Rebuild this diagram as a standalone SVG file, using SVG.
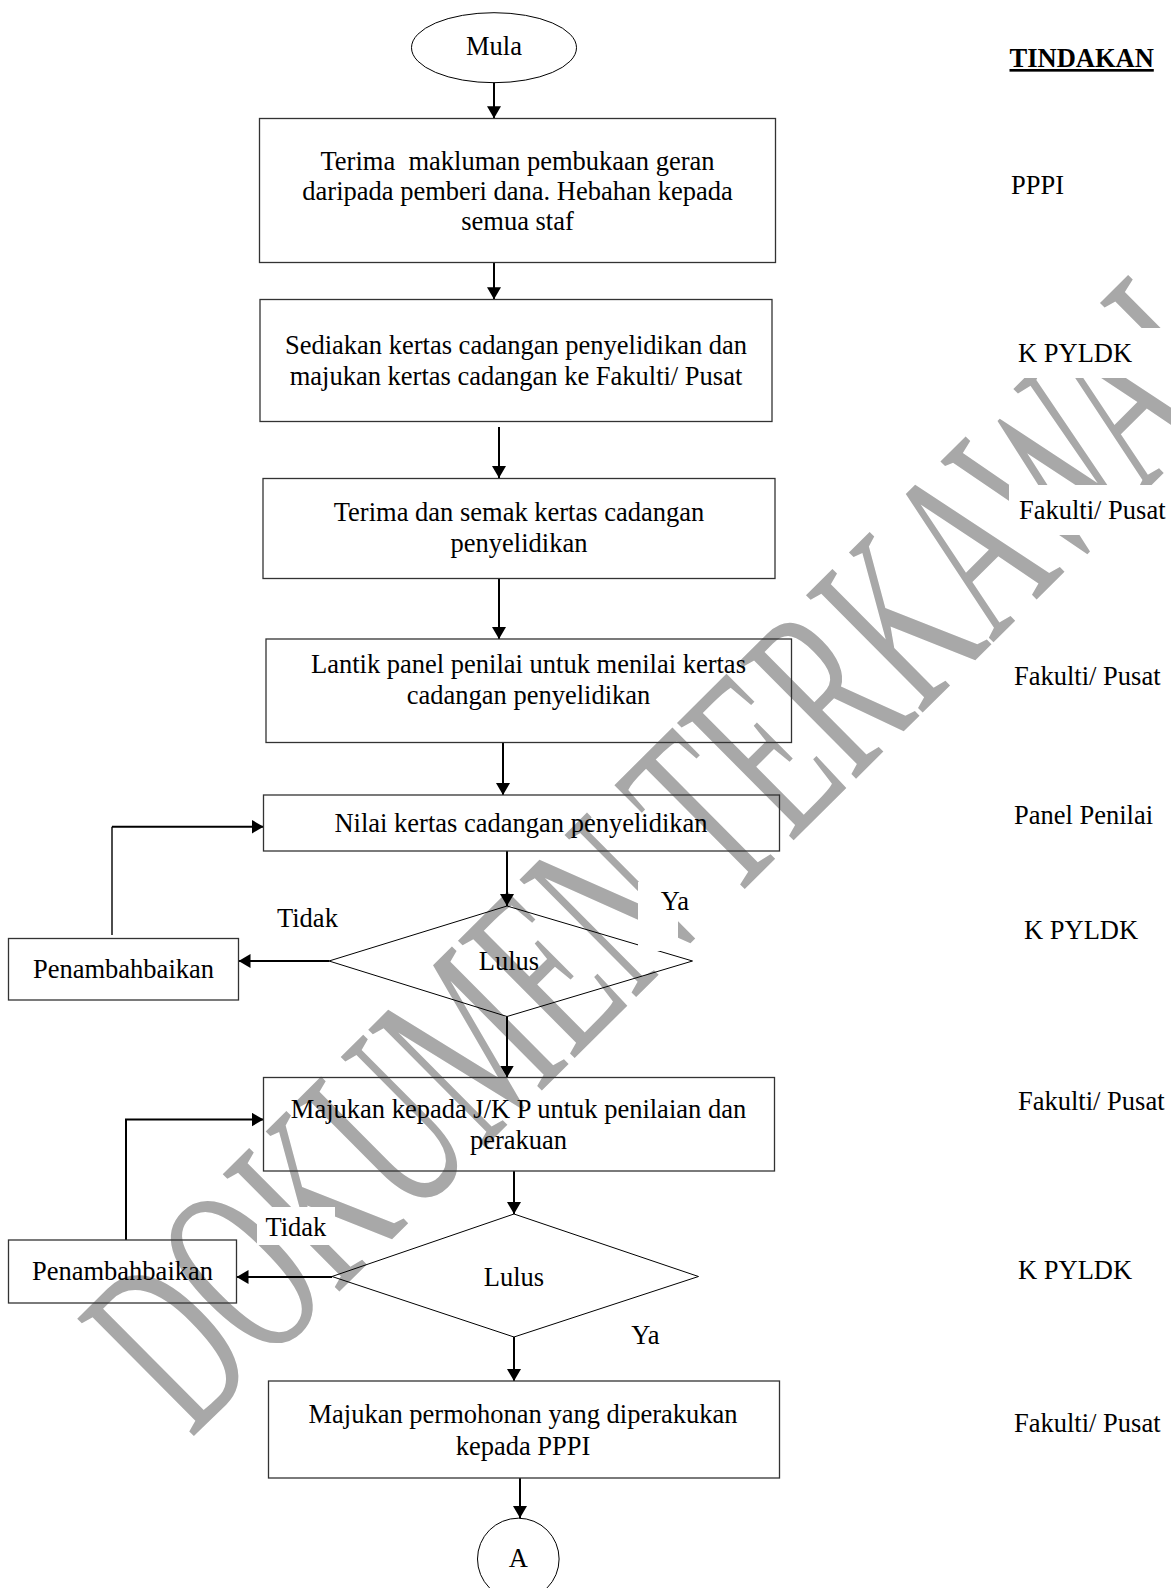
<svg xmlns="http://www.w3.org/2000/svg" width="1171" height="1588" viewBox="0 0 1171 1588">
<defs>
<marker id="ah" markerUnits="userSpaceOnUse" viewBox="0 0 12 14" refX="12" refY="7" markerWidth="12" markerHeight="14" orient="auto">
<path d="M0,0 L12,7 L0,14 z" fill="#000"/>
</marker>
</defs>
<style>
.t{font-family:"Liberation Serif","Times New Roman",serif;font-size:26.5px;fill:#000}
.c{text-anchor:middle}
.b{font-weight:bold;text-decoration:underline}
.box{fill:none;stroke:#333;stroke-width:1.3}
.ln{fill:none;stroke:#000;stroke-width:2}
.thin{fill:none;stroke:#000;stroke-width:1.4}
.wm{font-family:"Liberation Serif","Times New Roman",serif;font-size:142px;fill:#a8a8a8}
.bg{fill:#fff;stroke:none}
</style>
<rect width="1171" height="1588" fill="#fff"/>
<g id="watermark">
<text class="wm" transform="translate(191,1439) rotate(-44.8) scale(1,1.78)">DOKUMEN TERKAWAL</text>
</g>
<g id="connectors">
<path class="ln" d="M494,82.7 V118.3" marker-end="url(#ah)"/>
<path class="ln" d="M494,262.7 V299.3" marker-end="url(#ah)"/>
<path class="ln" d="M499,427 V478" marker-end="url(#ah)"/>
<path class="ln" d="M499,578.5 V639" marker-end="url(#ah)"/>
<path class="ln" d="M503,742.5 V795" marker-end="url(#ah)"/>
<path class="ln" d="M507,851 V906" marker-end="url(#ah)"/>
<path class="ln" d="M507,1016.5 V1077.5" marker-end="url(#ah)"/>
<path class="ln" d="M514,1171 V1214" marker-end="url(#ah)"/>
<path class="ln" d="M514,1337 V1381" marker-end="url(#ah)"/>
<path class="ln" d="M520,1478 V1518" marker-end="url(#ah)"/>
<path class="thin" d="M112,935 V826.7"/>
<path class="ln" d="M112,826.7 H263.5" marker-end="url(#ah)"/>
<path class="ln" d="M126,1240 V1119.5 H263.5" marker-end="url(#ah)"/>
<path class="ln" d="M329,961 H238.5" stroke-width="2.6" marker-end="url(#ah)"/>
<path class="ln" d="M332,1277 H236.5" stroke-width="2.6" marker-end="url(#ah)"/>
</g>
<g id="start">
<ellipse cx="494" cy="47.7" rx="82.5" ry="35" fill="none" stroke="#000" stroke-width="1"/>
<text class="t c" x="494" y="55">Mula</text>
</g>
<g id="step1">
<rect class="box" x="259.5" y="118.5" width="516" height="144"/>
<text class="t c" x="517.5" y="170">Terima&#160; makluman pembukaan geran</text>
<text class="t c" x="517.5" y="200">daripada pemberi dana. Hebahan kepada</text>
<text class="t c" x="517.5" y="230">semua staf</text>
</g>
<g id="step2">
<rect class="box" x="260" y="299.5" width="512" height="122"/>
<text class="t c" x="516" y="353.5">Sediakan kertas cadangan penyelidikan dan</text>
<text class="t c" x="516" y="385">majukan kertas cadangan ke Fakulti/ Pusat</text>
</g>
<g id="step3">
<rect class="box" x="263" y="478.5" width="512" height="100"/>
<text class="t c" x="519" y="520.5">Terima dan semak kertas cadangan</text>
<text class="t c" x="519" y="551.5">penyelidikan</text>
</g>
<g id="step4">
<rect class="box" x="266" y="639" width="525.5" height="103.5"/>
<text class="t c" x="528.5" y="672.5">Lantik panel penilai untuk menilai kertas</text>
<text class="t c" x="528.5" y="703.5">cadangan penyelidikan</text>
</g>
<g id="step5">
<rect class="box" x="263.5" y="795" width="516" height="56"/>
<text class="t c" x="521" y="831.5">Nilai kertas cadangan penyelidikan</text>
</g>
<g id="decision1">
<polygon points="507,906 692.5,961 507,1016.5 329,961" fill="none" stroke="#000" stroke-width="1"/>
<text class="t c" x="509" y="970">Lulus</text>
</g>
<g id="fix1">
<rect class="box" x="8.5" y="938.5" width="230" height="61.5"/>
<text class="t c" x="123.5" y="978">Penambahbaikan</text>
</g>
<g id="step6">
<rect class="box" x="263.5" y="1077.5" width="511" height="93.5"/>
<text class="t c" x="518.5" y="1118">Majukan kepada J/K P untuk penilaian dan</text>
<text class="t c" x="518.5" y="1149">perakuan</text>
</g>
<g id="decision2">
<polygon points="514,1214 698.5,1276.5 514,1337 332,1276.5" fill="none" stroke="#000" stroke-width="1"/>
<text class="t c" x="514" y="1286">Lulus</text>
</g>
<g id="fix2">
<rect class="box" x="8.5" y="1240" width="228" height="63"/>
<text class="t c" x="122.5" y="1280">Penambahbaikan</text>
</g>
<g id="step7">
<rect class="box" x="268.5" y="1381" width="511" height="97"/>
<text class="t c" x="523" y="1422.5">Majukan permohonan yang diperakukan</text>
<text class="t c" x="523" y="1455">kepada PPPI</text>
</g>
<g id="end">
<circle cx="518.3" cy="1559" r="40.8" fill="none" stroke="#000" stroke-width="1"/>
<text class="t c" x="518.3" y="1567">A</text>
</g>
<g id="labels">
<rect class="bg" x="268" y="898" width="78" height="38"/>
<text class="t" x="277" y="926.5">Tidak</text>
<rect class="bg" x="638" y="882" width="40" height="69"/>
<text class="t" x="660.7" y="910">Ya</text>
<rect class="bg" x="257" y="1207" width="78" height="38"/>
<text class="t" x="265.4" y="1235.5">Tidak</text>
<rect class="bg" x="622" y="1316" width="50" height="38"/>
<text class="t" x="631.3" y="1344">Ya</text>
</g>
<g id="actions">
<rect class="bg" x="1000" y="36" width="171" height="44"/>
<text class="t b" x="1009.5" y="67">TINDAKAN</text>
<rect class="bg" x="1001" y="159" width="170" height="50"/>
<text class="t" x="1011" y="193.5">PPPI</text>
<rect class="bg" x="1008" y="328" width="163" height="50"/>
<text class="t" x="1018" y="362">K PYLDK</text>
<rect class="bg" x="1009" y="485" width="162" height="50"/>
<text class="t" x="1019" y="519">Fakulti/ Pusat</text>
<rect class="bg" x="1004" y="651" width="167" height="50"/>
<text class="t" x="1014" y="685">Fakulti/ Pusat</text>
<rect class="bg" x="1004" y="790" width="167" height="50"/>
<text class="t" x="1014" y="824">Panel Penilai</text>
<rect class="bg" x="1014" y="904" width="157" height="50"/>
<text class="t" x="1024" y="938.5">K PYLDK</text>
<rect class="bg" x="1008" y="1076" width="163" height="50"/>
<text class="t" x="1018" y="1110">Fakulti/ Pusat</text>
<rect class="bg" x="1008" y="1245" width="163" height="50"/>
<text class="t" x="1018" y="1279">K PYLDK</text>
<rect class="bg" x="1004" y="1398" width="167" height="50"/>
<text class="t" x="1014" y="1432">Fakulti/ Pusat</text>
</g>
</svg>
